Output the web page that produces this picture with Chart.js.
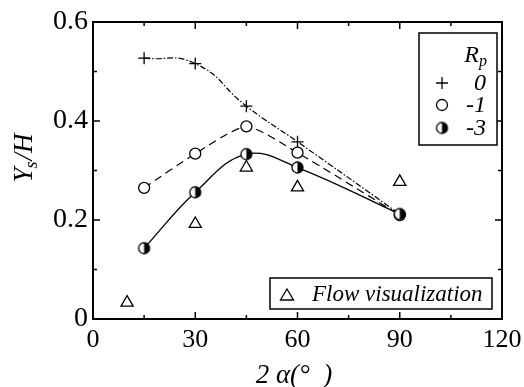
<!DOCTYPE html>
<html>
<head>
<meta charset="utf-8">
<script src="https://cdn.jsdelivr.net/npm/chart.js@4.4.1/dist/chart.umd.min.js"></script>
<style>
  html, body { margin: 0; padding: 0; background: #fff; }
</style>
</head>
<body>
<canvas id="myChart" width="524" height="387"></canvas>
<script>
// Data
const angles = [15, 30, 45, 60, 90];
const rp0 = [0.527, 0.516, 0.430, 0.358, 0.212];
const rp1 = [0.265, 0.334, 0.389, 0.336, 0.210];
const rp3 = [0.143, 0.256, 0.333, 0.306, 0.212];
const flowAngles = [10, 30, 45, 60, 90];
const flowVals = [0.033, 0.192, 0.306, 0.266, 0.277];
const xMinor = [15, 45, 75, 105];
const yMinor = [0.1, 0.3, 0.5];
const rpLabels = ['0', '-1', '-3'];

const SERIF = '"Liberation Serif", "DejaVu Serif", serif';

// half filled circle marker (right half black)
function halfDot(r) {
    const s = Math.ceil(r * 2 + 4);
    const c = document.createElement('canvas');
    c.width = s; c.height = s;
    const g = c.getContext('2d');
    const m = s / 2;
    g.fillStyle = '#fff';
    g.beginPath(); g.arc(m, m, r, 0, Math.PI * 2); g.fill();
    g.fillStyle = '#000';
    g.beginPath(); g.arc(m, m, r, -Math.PI / 2, Math.PI / 2); g.closePath(); g.fill();
    g.lineWidth = 1.3; g.strokeStyle = '#000';
    g.beginPath(); g.arc(m, m, r, 0, Math.PI * 2); g.stroke();
    return c;
}
const halfImg = halfDot(5.5);

const pts = (xs, ys) => xs.map((x, i) => ({ x: x, y: ys[i] }));

// frame, inward ticks, axis titles and the two legend boxes
const decorations = {
    id: 'decorations',
    afterDraw(chart) {
        const { ctx, chartArea: a, scales: { x, y } } = chart;
        ctx.save();
        ctx.strokeStyle = '#000';
        ctx.lineWidth = 2;
        ctx.strokeRect(a.left, a.top, a.right - a.left, a.bottom - a.top);

        ctx.lineWidth = 1.5;
        ctx.beginPath();
        const xt = x.ticks.map(t => [t.value, 7]).concat(xMinor.map(v => [v, 4]));
        xt.forEach(([v, len]) => {
            const px = x.getPixelForValue(v);
            ctx.moveTo(px, a.bottom); ctx.lineTo(px, a.bottom - len);
            ctx.moveTo(px, a.top); ctx.lineTo(px, a.top + len);
        });
        const yt = y.ticks.map(t => [t.value, 7]).concat(yMinor.map(v => [v, 4]));
        yt.forEach(([v, len]) => {
            const py = y.getPixelForValue(v);
            ctx.moveTo(a.left, py); ctx.lineTo(a.left + len, py);
            ctx.moveTo(a.right, py); ctx.lineTo(a.right - len, py);
        });
        ctx.stroke();

        ctx.fillStyle = '#000';
        ctx.textBaseline = 'alphabetic';

        // y axis title: Y_s/H
        ctx.save();
        ctx.translate(32, 158);
        ctx.rotate(-Math.PI / 2);
        const big = 'italic 27px ' + SERIF, small = 'italic 18px ' + SERIF;
        ctx.font = big; const wY = ctx.measureText('Y').width; const wH = ctx.measureText('/H').width;
        ctx.font = small; const wS = ctx.measureText('s').width;
        let sx = -(wY + wS + wH) / 2;
        ctx.textAlign = 'left';
        ctx.font = big; ctx.fillText('Y', sx, 0); sx += wY;
        ctx.font = small; ctx.fillText('s', sx - 1, 5); sx += wS;
        ctx.font = big; ctx.fillText('/H', sx, 0);
        ctx.restore();

        // x axis title
        ctx.font = 'italic 27px ' + SERIF;
        ctx.textAlign = 'center';
        ctx.fillText('2 \u03B1(\u00B0  )', 294, 383);

        // legend box for Rp
        ctx.lineWidth = 1.5;
        ctx.fillStyle = '#fff';
        ctx.fillRect(419, 33, 78, 112);
        ctx.strokeRect(419, 33, 78, 112);
        ctx.fillStyle = '#000';
        ctx.textAlign = 'right';
        ctx.font = 'italic 24px ' + SERIF;
        ctx.fillText('R', 479, 62);
        ctx.font = 'italic 16px ' + SERIF;
        ctx.fillText('p', 487, 66);
        ctx.font = 'italic 24px ' + SERIF;
        ctx.textBaseline = 'middle';
        const rowY = [83, 105, 128];
        rpLabels.forEach((t, i) => ctx.fillText(t, 486, rowY[i] + 1));
        const mx = 442;
        ctx.lineWidth = 1.3;
        ctx.beginPath();
        ctx.moveTo(mx - 6, rowY[0]); ctx.lineTo(mx + 6, rowY[0]);
        ctx.moveTo(mx, rowY[0] - 6); ctx.lineTo(mx, rowY[0] + 6);
        ctx.stroke();
        ctx.beginPath(); ctx.arc(mx, rowY[1], 5.5, 0, Math.PI * 2); ctx.stroke();
        ctx.drawImage(halfImg, mx - halfImg.width / 2, rowY[2] - halfImg.height / 2);

        // flow visualization box
        ctx.lineWidth = 1.5;
        ctx.fillStyle = '#fff';
        ctx.fillRect(270, 278, 222, 31);
        ctx.strokeRect(270, 278, 222, 31);
        ctx.fillStyle = '#000';
        ctx.lineWidth = 1.3;
        ctx.beginPath();
        ctx.moveTo(287, 289); ctx.lineTo(293.5, 300); ctx.lineTo(280.5, 300); ctx.closePath();
        ctx.stroke();
        ctx.textAlign = 'left';
        ctx.font = 'italic 23px ' + SERIF;
        ctx.fillText('Flow visualization', 312, 295);
        ctx.restore();
    }
};

const ctx = document.getElementById('myChart').getContext('2d');

const myChart = new Chart(ctx, {
    type: 'line',
    data: {
        datasets: [
            {
                label: '0',
                data: pts(angles, rp0),
                borderColor: '#000',
                borderWidth: 1.2,
                borderDash: [6, 2, 1.5, 2],
                tension: 0.5,
                pointStyle: 'cross',
                pointRadius: [6, 6, 6, 6, 0],
                pointBorderColor: '#000',
                pointBorderWidth: 1.3,
                order: 4
            },
            {
                label: '-1',
                data: pts(angles, rp1),
                borderColor: '#000',
                borderWidth: 1.2,
                borderDash: [8, 5],
                tension: 0.2,
                pointStyle: 'circle',
                pointRadius: 5.5,
                pointBackgroundColor: '#fff',
                pointBorderColor: '#000',
                pointBorderWidth: 1.3,
                order: 3
            },
            {
                label: '-3',
                data: pts(angles, rp3),
                borderColor: '#000',
                borderWidth: 1.3,
                tension: 0.4,
                pointStyle: halfImg,
                pointRadius: 5.5,
                order: 2
            },
            {
                label: 'Flow visualization',
                data: pts(flowAngles, flowVals),
                showLine: false,
                pointStyle: 'triangle',
                pointRadius: 7,
                pointBackgroundColor: '#fff',
                pointBorderColor: '#000',
                pointBorderWidth: 1.3,
                order: 1
            }
        ]
    },
    options: {
        responsive: false,
        animation: false,
        layout: { padding: { top: 22, right: 22, left: 0, bottom: 0 } },
        plugins: { legend: { display: false }, tooltip: { enabled: false } },
        scales: {
            x: {
                type: 'linear',
                min: 0, max: 120,
                ticks: { stepSize: 30, color: '#000', font: { family: SERIF, size: 26 }, padding: 6, maxRotation: 0 },
                grid: { display: false, drawTicks: false },
                border: { display: false },
                afterFit: s => { s.height = 68; s.paddingLeft = 0; s.paddingRight = 0; }
            },
            y: {
                min: 0, max: 0.6,
                ticks: {
                    stepSize: 0.2, color: '#000', font: { family: SERIF, size: 28 }, padding: 5,
                    callback: v => v === 0 ? '0' : v.toFixed(1)
                },
                grid: { display: false, drawTicks: false },
                border: { display: false },
                afterFit: s => { s.width = 93; s.paddingTop = 0; s.paddingBottom = 0; }
            }
        }
    },
    plugins: [decorations]
});
</script>
</body>
</html>
